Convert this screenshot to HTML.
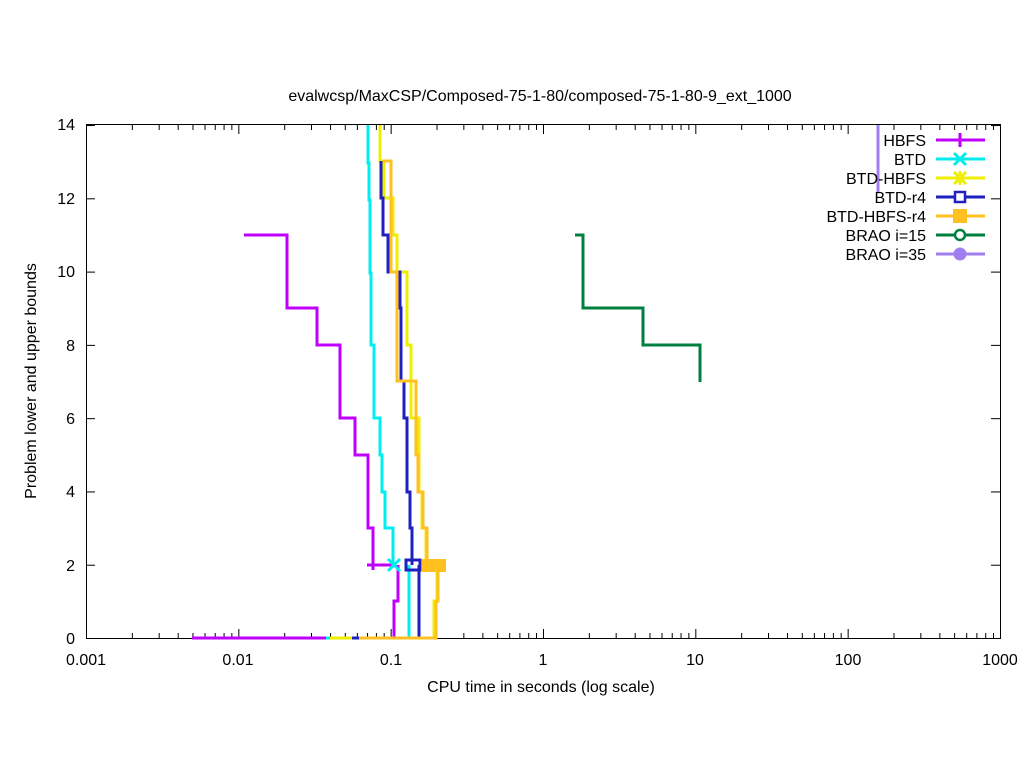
<!DOCTYPE html>
<html><head><meta charset="utf-8"><style>
body{margin:0;background:#fff;}
svg{display:block;font-family:"Liberation Sans",sans-serif;}
</style></head><body>
<svg id="s" width="1024" height="768" xmlns="http://www.w3.org/2000/svg">
<rect width="1024" height="768" fill="#fff"/>
<g id="ticks" stroke="#000" stroke-width="1"></g>
<rect x="86.5" y="124.5" width="914" height="514" fill="none" stroke="#000" stroke-width="1"/>
<g font-size="16" fill="#000">
<text x="540" y="101" text-anchor="middle">evalwcsp/MaxCSP/Composed-75-1-80/composed-75-1-80-9_ext_1000</text>
<text x="541" y="692" text-anchor="middle">CPU time in seconds (log scale)</text>
<text transform="translate(36,381) rotate(-90)" text-anchor="middle">Problem lower and upper bounds</text>
<g text-anchor="end">
<text x="75" y="644">0</text><text x="75" y="571">2</text><text x="75" y="497">4</text><text x="75" y="424">6</text><text x="75" y="351">8</text><text x="75" y="277">10</text><text x="75" y="204">12</text><text x="75" y="130">14</text>
</g>
<g text-anchor="middle">
<text x="86" y="665">0.001</text><text x="238" y="665">0.01</text><text x="391" y="665">0.1</text><text x="543" y="665">1</text><text x="695" y="665">10</text><text x="848" y="665">100</text><text x="1000" y="665">1000</text>
</g>
</g>
<g fill="none" stroke-width="3" stroke-linejoin="miter">
<polyline stroke="#c000ff" points="244,235 287,235 287,308 317,308 317,345 340,345 340,418 355,418 355,455 368,455 368,528 373,528 373,570"/>
<polyline stroke="#c000ff" points="367,565 395,565"/>
<polyline stroke="#c000ff" points="192,638 394,638 394,601 398,601 398,565"/>
<polyline stroke="#00eeee" points="368,125 368,163 369,163 369,200 370,200 370,273 371,273 371,345 374,345 374,418 380,418 380,455 382,455 382,492 385,492 385,528 393,528 393,565"/>
<polyline stroke="#00eeee" points="326,638 409,638 409,565"/>
<polyline stroke="#eeee00" points="380,125 380,161 384,161 384,198 393,198 393,235 397,235 397,272 407,272 407,345 411,345 411,418 419,418 419,492 422,492 422,528 426,528 426,565"/>
<polyline stroke="#eeee00" points="330,638 434,638 434,601 437,601 437,565"/>
<polyline stroke="#2020c0" points="381,161 381,198 383,198 383,235 388,235 388,272 400,272 400,308 401,308 401,381 404,381 404,418 407,418 407,492 410,492 410,528 412,528 412,565"/>
<polyline stroke="#2020c0" points="352,638 419,638 419,565"/>
<polyline stroke="#ffc020" points="383,161 391,161 391,272 397,272 397,381 416,381 416,455 418,455 418,492 423,492 423,528 427,528 427,565"/>
<polyline stroke="#ffc020" points="359,638 436,638 436,601 438,601 438,565"/>
<polyline stroke="#008040" points="575,235 583,235 583,308 643,308 643,345 700,345 700,382"/>
<polyline stroke="#a080f0" points="878,125 878,193"/>
</g>
<g stroke-width="3">
<path d="M388,559 L400,571 M400,559 L388,571" stroke="#00eeee"/>
<rect x="406" y="560" width="14" height="10" fill="none" stroke="#2020c0" stroke-width="3"/>
<rect x="422" y="559" width="24" height="13" fill="#ffc020"/>
</g>
<g font-size="16" text-anchor="end" fill="#000">
<text x="926" y="146">HBFS</text><text x="926" y="165">BTD</text><text x="926" y="184">BTD-HBFS</text><text x="926" y="203">BTD-r4</text><text x="926" y="222">BTD-HBFS-r4</text><text x="926" y="241">BRAO i=15</text><text x="926" y="260">BRAO i=35</text>
</g>
<g stroke-width="3">
<line x1="936" y1="140" x2="985" y2="140" stroke="#c000ff"/><line x1="960" y1="133" x2="960" y2="147" stroke="#c000ff"/>
<line x1="936" y1="159" x2="985" y2="159" stroke="#00eeee"/><path d="M954,153 L966,165 M966,153 L954,165" stroke="#00eeee"/>
<line x1="936" y1="178" x2="985" y2="178" stroke="#eeee00"/><path d="M954,172 L966,184 M966,172 L954,184 M960,171 L960,185" stroke="#eeee00"/>
<line x1="936" y1="197" x2="985" y2="197" stroke="#2020c0"/><rect x="955" y="192" width="10" height="10" fill="#fff" stroke="#2020c0" stroke-width="2.5"/>
<line x1="936" y1="216" x2="985" y2="216" stroke="#ffc020"/><rect x="953" y="209" width="14" height="14" fill="#ffc020" stroke="none"/>
<line x1="936" y1="235" x2="985" y2="235" stroke="#008040"/><circle cx="960" cy="235" r="5" fill="#fff" stroke="#008040" stroke-width="2.5"/>
<line x1="936" y1="254" x2="985" y2="254" stroke="#a080f0"/><circle cx="960" cy="254" r="6.5" fill="#a080f0" stroke="none"/>
</g>
</svg>
<script>
var g=document.getElementById('ticks'),h='';
function L(a,b,c,d){h+='<line x1="'+a+'" y1="'+b+'" x2="'+c+'" y2="'+d+'"/>';}
for(var d=0;d<6;d++){for(var m=1;m<10;m++){var x=86.5+152.33*(d+Math.log10(m));var len=m==1?9:5;L(x,638,x,638-len);L(x,125,x,125+len);}}
L(1000.5,638,1000.5,629);L(1000.5,125,1000.5,134);
for(var v=0;v<=14;v+=2){var y=638.5-36.64*v;L(86,y,95,y);L(1000,y,991,y);}
g.innerHTML=h;
</script>
</body></html>
